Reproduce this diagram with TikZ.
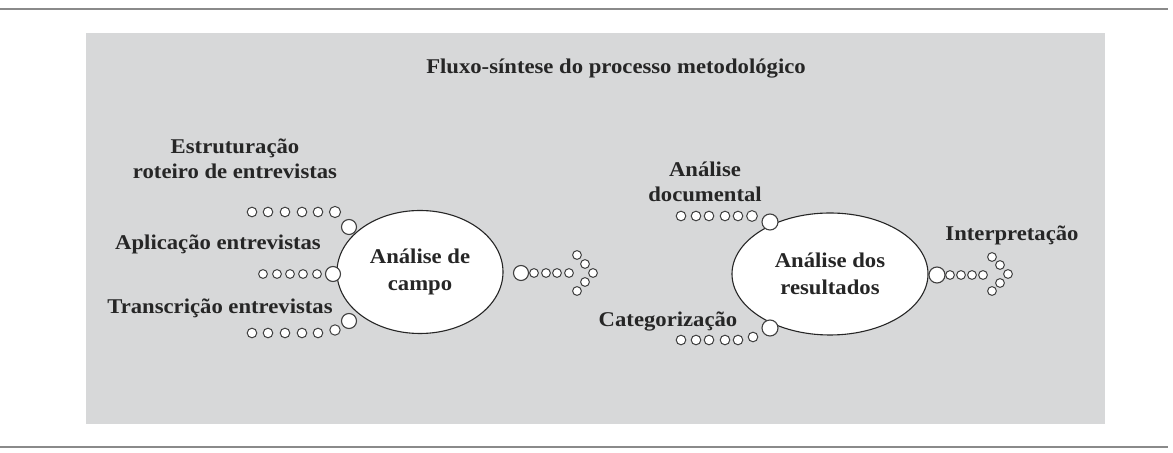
\documentclass[tikz,border=0pt]{standalone}
\usepackage{fontspec}
\setmainfont{Liberation Serif}[FakeStretch=1.08]
\usetikzlibrary{positioning,shapes.geometric}

\definecolor{panelgray}{HTML}{D7D8D9}
\definecolor{rulegray}{HTML}{8A8A8A}
\definecolor{inkgray}{HTML}{262626}

\begin{document}
\begin{tikzpicture}[
    x=0.5pt, y=-0.5pt,
    font=\bfseries\fontsize{10.5}{12.5}\selectfont,
    text=inkgray,
    phase/.style={
        ellipse,
        draw=black!85,
        fill=white,
        line width=0.55pt,
        align=center,
        inner sep=0pt,
        font=\bfseries\fontsize{10.5}{13.5}\selectfont
    },
    knot/.style={circle, draw=black!75, fill=white, line width=0.55pt, inner sep=0pt, minimum size=7.5pt},
    bead/.style={circle, draw=black!75, fill=white, line width=0.5pt, inner sep=0pt, minimum size=4.8pt},
    beadsm/.style={bead, minimum size=4.4pt},
    tag/.style={align=center, inner sep=0pt}
]
\useasboundingbox (0,0) rectangle (1173,453);

% frame
\draw[rulegray, line width=0.8pt] (0,9) -- (1168,9);
\draw[rulegray, line width=0.8pt] (0,447) -- (1168,447);
\fill[panelgray] (86,33) rectangle (1105,424);

\node[tag] (title) at (616,69) {Fluxo-síntese do processo metodológico};

% main phases
\node[phase, minimum width=83pt, minimum height=61.5pt] (campo) at (420,272) {Análise de\\campo};
\node[phase, minimum width=98pt, minimum height=61pt] (resultados) at (830,274) {Análise dos\\resultados};

% field steps
\node[tag] (estr) at (235,159) {Estruturação\\roteiro de entrevistas};
\node[tag] (apl) at (218,244) {Aplicação entrevistas};
\node[tag] (trans) at (220,308) {Transcrição entrevistas};

\node[knot] (kestr) at (349,227) {};
\node[knot] (kapl) at (333,274) {};
\node[knot] (ktrans) at (349,321) {};

\foreach \x [count=\i] in {252,268,285,302,318}
    \node[bead] (estr\i) at (\x,212) {};
\node[bead, minimum size=5.6pt] (estr6) at (335,212) {};
\foreach \x [count=\i] in {263,277,290,303,317}
    \node[beadsm] (apl\i) at (\x,274) {};
\foreach \x [count=\i] in {252,268,285,302,318}
    \node[bead] (trans\i) at (\x,333) {};
\node[bead, minimum size=5.2pt] (trans6) at (335,330) {};

% middle arrow
\node[knot] (kmid) at (521,273) {};
\foreach \x [count=\i] in {534,546,557,569}
    \node[beadsm] (mid\i) at (\x,273) {};
\foreach \x/\y [count=\i] in {577/255,585/264,593/273,585/282,577/291}
    \node[beadsm] (midtip\i) at (\x,\y) {};

% result steps
\node[tag] (doc) at (705,182) {Análise\\documental};
\node[tag] (cat) at (668,322) {Categorização};
\node[tag] (interp) at (1012,235) {Interpretação};

\node[knot, minimum size=8pt] (kdoc) at (770,222) {};
\node[knot, minimum size=8pt] (kcat) at (770,328) {};

\foreach \x [count=\i] in {681,696,709,725,738}
    \node[bead] (doc\i) at (\x,216) {};
\node[bead, minimum size=5.4pt] (doc6) at (752,216) {};
\foreach \x [count=\i] in {681,696,709,725,738}
    \node[bead] (cat\i) at (\x,340) {};
\node[bead] (cat6) at (753,337) {};

% final arrow
\node[knot, minimum size=8pt] (kinterp) at (937,275) {};
\foreach \x [count=\i] in {950,961,972,983}
    \node[beadsm] (interp\i) at (\x,275) {};
\foreach \x/\y [count=\i] in {992/257,1000/265,1008/274,1000/283,992/291}
    \node[beadsm] (interptip\i) at (\x,\y) {};
\end{tikzpicture}
\end{document}
